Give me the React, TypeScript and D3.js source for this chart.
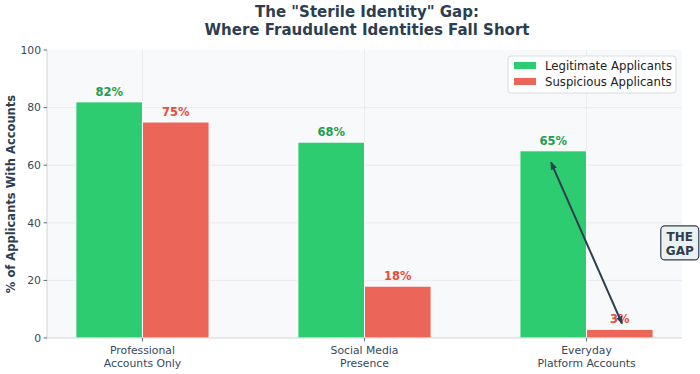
import React from "react";
import * as d3 from "d3";

const categories = ["Professional\nAccounts Only", "Social Media\nPresence", "Everyday\nPlatform Accounts"];
const legitimate = [82, 68, 65];
const suspicious = [75, 18, 3];
const yTicks = [0, 20, 40, 60, 80, 100];
const seriesNames = ["Legitimate Applicants", "Suspicious Applicants"];

const W = 700;
const H = 374;
const margin = { top: 50, right: 18, bottom: 36, left: 47 };
const GREEN = "#2ecc71";
const RED = "#eb6658";
const DARK = "#2c3e50";
const TICK = "#34495e";

const App: React.FC = () => {
  const innerW = W - margin.left - margin.right;
  const innerH = H - margin.top - margin.bottom;
  const barW = 0.3;

  const x = d3.scaleLinear().domain([-0.43, 2.43]).range([0, innerW]);
  const y = d3.scaleLinear().domain([0, 100]).range([innerH, 0]);
  const bw = x(barW) - x(0);

  const font = "'DejaVu Sans', sans-serif";

  // arrow ends
  const a1 = { x: x(2 + 0.16), y: y(5) };
  const a2 = { x: x(2 - 0.16), y: y(61) };

  return (
    <svg width={W} height={H} style={{ position: "absolute", left: 0, top: 0 }} fontFamily={font}>
      <defs>
        <marker id="ah" viewBox="0 0 10 10" refX="9" refY="5" markerWidth="8" markerHeight="8" orient="auto-start-reverse" markerUnits="userSpaceOnUse">
          <path d="M0,1 L10,5 L0,9 z" fill={DARK} />
        </marker>
      </defs>
      <rect width={W} height={H} fill="#ffffff" />
      <text x={367} y={17} textAnchor="middle" fontSize={15} fontWeight="bold" fill={DARK}>
        The "Sterile Identity" Gap:
      </text>
      <text x={367} y={35} textAnchor="middle" fontSize={15} fontWeight="bold" fill={DARK}>
        Where Fraudulent Identities Fall Short
      </text>
      <g transform={`translate(${margin.left},${margin.top})`}>
        <rect width={innerW} height={innerH} fill="#f8f9fa" />
        {yTicks.filter((t) => t > 0 && t < 100).map((t) => (
          <line key={t} x1={0} x2={innerW} y1={y(t)} y2={y(t)} stroke="#e6e8eb" strokeWidth={0.8} />
        ))}
        {categories.map((c, i) => (
          <line key={c} x1={x(i)} x2={x(i)} y1={0} y2={innerH} stroke="#e6e8eb" strokeWidth={0.8} />
        ))}
        {legitimate.map((v, i) => (
          <g key={"l" + i}>
            <rect x={x(i - barW)} y={y(v)} width={bw} height={innerH - y(v)} fill={GREEN} stroke="#ffffff" strokeWidth={1} />
            <text x={x(i - barW / 2)} y={y(v) - 6} textAnchor="middle" fontSize={11.5} fontWeight="bold" fill="#1e9e50">
              {v}%
            </text>
          </g>
        ))}
        {suspicious.map((v, i) => (
          <g key={"s" + i}>
            <rect x={x(i)} y={y(v)} width={bw} height={innerH - y(v)} fill={RED} stroke="#ffffff" strokeWidth={1} />
            <text x={x(i + barW / 2)} y={y(v) - 6} textAnchor="middle" fontSize={11.5} fontWeight="bold" fill="#e74c3c">
              {v}%
            </text>
          </g>
        ))}
        {/* axes */}
        <line x1={0} x2={0} y1={0} y2={innerH} stroke="#c8ccd0" strokeWidth={0.8} />
        <line x1={0} x2={innerW} y1={innerH} y2={innerH} stroke="#c8ccd0" strokeWidth={0.8} />
        {yTicks.map((t) => (
          <g key={t} transform={`translate(0,${y(t)})`}>
            <line x1={-3.5} x2={0} stroke={TICK} strokeWidth={0.8} />
            <text x={-6} dy="0.35em" textAnchor="end" fontSize={10.8} fill={TICK}>
              {t}
            </text>
          </g>
        ))}
        {categories.map((c, i) => (
          <g key={c} transform={`translate(${x(i)},${innerH})`}>
            <line y1={0} y2={3.5} stroke={TICK} strokeWidth={0.8} />
            {c.split("\n").map((line, j) => (
              <text key={j} y={16 + j * 12.5} textAnchor="middle" fontSize={10.8} fill={TICK}>
                {line}
              </text>
            ))}
          </g>
        ))}
        {/* gap arrow */}
        <line x1={a1.x} y1={a1.y} x2={a2.x} y2={a2.y} stroke={DARK} strokeWidth={2} markerStart="url(#ah)" markerEnd="url(#ah)" />
        <g transform={`translate(${x(2.42)},${y(33)})`}>
          <rect x={-19} y={-17} width={38} height={34} rx={4} fill="#ecf0f1" stroke={DARK} strokeWidth={1.2} />
          <text y={-2} textAnchor="middle" fontSize={12} fontWeight="bold" fill={DARK}>THE</text>
          <text y={12} textAnchor="middle" fontSize={12} fontWeight="bold" fill={DARK}>GAP</text>
        </g>
        {/* legend */}
        <g transform={`translate(${innerW - 174},6)`}>
          <rect width={168} height={37} rx={3} fill="#ffffff" fillOpacity={0.85} stroke="#d0d4d8" strokeWidth={0.8} />
          {seriesNames.map((n, i) => (
            <g key={n} transform={`translate(6,${10 + i * 16})`}>
              <rect x={0} y={-4} width={22} height={7} fill={i === 0 ? GREEN : RED} />
              <text x={31} dy="0.35em" fontSize={11.7} fill="#222">{n}</text>
            </g>
          ))}
        </g>
      </g>
      <text transform={`translate(15,${margin.top + innerH / 2}) rotate(-90)`} textAnchor="middle" fontSize={11.5} fontWeight="bold" fill={DARK}>
        % of Applicants With Accounts
      </text>
    </svg>
  );
};

export default App;
